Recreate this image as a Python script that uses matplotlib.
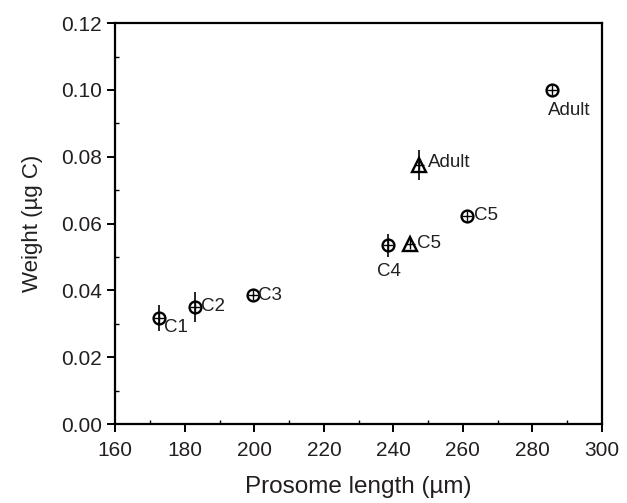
import matplotlib
matplotlib.use("Agg")
import matplotlib.pyplot as plt
from matplotlib.ticker import MultipleLocator, FormatStrFormatter

plt.rcParams['font.family'] = ['Liberation Sans', 'DejaVu Sans']

# circles series
circ_x = [172.5, 182.9, 199.5, 238.5, 261.3, 285.7]
circ_y = [0.0317, 0.0351, 0.0386, 0.0535, 0.0623, 0.1001]
circ_err = [0.0038, 0.0045, 0.0, 0.0035, 0.0, 0.0]
circ_lab = ["C1", "C2", "C3", "C4", "C5", "Adult"]

# triangles series
tri_x = [244.8, 247.5]
tri_y = [0.0540, 0.0774]
tri_err = [0.0, 0.0045]
tri_lab = ["C5", "Adult"]

fig = plt.figure(figsize=(6.27, 5.03), dpi=100)
ax = fig.add_axes([0.184, 0.157, 0.776, 0.797])

ax.errorbar(circ_x, circ_y, yerr=circ_err, fmt="none", ecolor="k", elinewidth=1.2, capsize=0)
ax.errorbar(tri_x, tri_y, yerr=tri_err, fmt="none", ecolor="k", elinewidth=1.2, capsize=0)
ax.plot(circ_x, circ_y, "o", ms=8.5, mfc="none", mec="k", mew=1.7, ls="None")
ax.plot(circ_x, circ_y, "+", ms=7, mec="k", mew=1.0, ls="None")
ax.plot(tri_x, tri_y, "^", ms=9.5, mfc="none", mec="k", mew=1.7, ls="None")
ax.plot(tri_x, tri_y, "+", ms=7, mec="k", mew=1.0, ls="None")

# label offsets in points
circ_off = [(4, -7), (4, 0), (4, 0), (-8, -19), (5, 0), (-3, -15)]
tri_off = [(5, 0), (6, 2)]
for x, y, t, o in zip(circ_x, circ_y, circ_lab, circ_off):
    ax.annotate(t, (x, y), xytext=o, textcoords="offset points",
                fontsize=13.5, va="center", ha="left", color="#231f20")
for x, y, t, o in zip(tri_x, tri_y, tri_lab, tri_off):
    ax.annotate(t, (x, y), xytext=o, textcoords="offset points",
                fontsize=13.5, va="center", ha="left", color="#231f20")

ax.set_xlim(160, 300)
ax.set_ylim(0, 0.12)
ax.xaxis.set_major_locator(MultipleLocator(20))
ax.xaxis.set_minor_locator(MultipleLocator(10))
ax.yaxis.set_major_locator(MultipleLocator(0.02))
ax.yaxis.set_minor_locator(MultipleLocator(0.01))
ax.yaxis.set_major_formatter(FormatStrFormatter("%.2f"))

for s in ax.spines.values():
    s.set_linewidth(1.6)
ax.tick_params(which="major", direction="out", length=6, width=1.4, labelsize=15,
               colors="k", labelcolor="#231f20")
ax.tick_params(axis="x", which="major", pad=6)
ax.tick_params(which="minor", direction="in", length=3, width=1.0)
ax.tick_params(which="both", top=False, right=False)
sx = ax.secondary_xaxis("top")
sx.tick_params(which="both", direction="in", length=3, labeltop=False)
sx.set_xticks([])
for s in sx.spines.values():
    s.set_visible(False)

ax.set_xlabel("Prosome length (µm)", fontsize=17.5, labelpad=12, color="#231f20")
ax.set_ylabel("Weight (µg C)", fontsize=16, labelpad=13, color="#231f20")

fig.savefig("out.png", dpi=100)
